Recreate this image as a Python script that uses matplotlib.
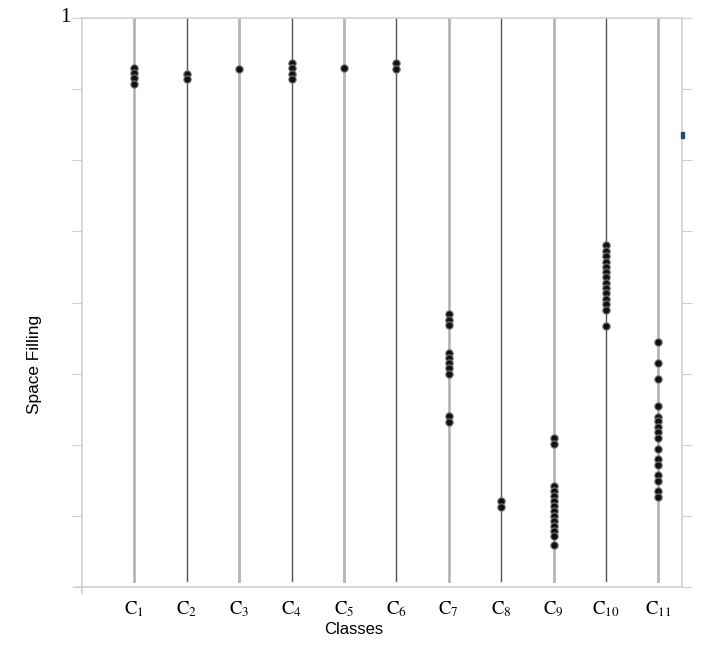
import matplotlib.pyplot as plt
from matplotlib.patches import Rectangle

plt.rcParams['mathtext.fontset'] = 'stix'

# classes and space filling values
classes = ['C1', 'C2', 'C3', 'C4', 'C5', 'C6', 'C7', 'C8', 'C9', 'C10', 'C11']
values = {
    'C1': [0.912, 0.903, 0.894, 0.884],
    'C2': [0.902, 0.893],
    'C3': [0.911],
    'C4': [0.921, 0.912, 0.902, 0.893],
    'C5': [0.912],
    'C6': [0.921, 0.910],
    'C7': [0.479, 0.470, 0.461, 0.412, 0.403, 0.394, 0.385, 0.375, 0.300, 0.290],
    'C8': [0.151, 0.140],
    'C9': [0.261, 0.251, 0.177, 0.169, 0.160, 0.151, 0.142, 0.134, 0.125,
           0.116, 0.107, 0.098, 0.090, 0.073],
    'C10': [0.601, 0.591, 0.582, 0.572, 0.563, 0.554, 0.544, 0.535, 0.525,
            0.516, 0.506, 0.497, 0.487, 0.459],
    'C11': [0.431, 0.393, 0.365, 0.318, 0.299, 0.291, 0.282, 0.272, 0.262,
            0.242, 0.225, 0.215, 0.196, 0.187, 0.168, 0.159],
}
yticks = [0, 0.125, 0.25, 0.375, 0.5, 0.625, 0.75, 0.875, 1]

fig = plt.figure(figsize=(7.05, 6.45), dpi=100)
ax = fig.add_axes([82 / 705, 1 - 587 / 645, 600 / 705, 569 / 645])

for i, c in enumerate(classes):
    x = i + 1
    if i % 2 == 0:
        ax.plot([x, x], [0.01, 1], color='#b5b5b5', lw=2, zorder=1)
    else:
        ax.plot([x, x], [0.01, 1], color='#555555', lw=1, zorder=1)
    ys = values[c]
    ax.scatter([x] * len(ys), ys, s=28, facecolor='#111111', edgecolor='#777777',
               linewidth=0.8, zorder=3)

ax.set_xlim(0, 11.45)
ax.set_ylim(0, 1)

ax.set_xticks(range(1, 12))
ax.set_xticklabels([r'$\mathrm{C}_{%s}$' % c[1:] for c in classes], fontsize=13.5)
ax.tick_params(axis='x', length=0, pad=9)

ax.set_yticks(yticks)
ax.set_yticklabels([''] * 8 + ['1'], family='Liberation Serif', fontsize=15)
ax.tick_params(axis='y', direction='out', length=7, color='#d0d0d0', pad=1,
               right=True, labelright=False)
for lab in ax.get_yticklabels():
    lab.set_verticalalignment('center')

for s in ax.spines.values():
    s.set_color('#d0d0d0')
    s.set_linewidth(1.2)
ax.spines['left'].set_bounds(-0.011, 1)
ax.spines['bottom'].set_bounds(-0.012 * 11.45, 11.45)

ax.set_xlabel('Classes', family='Liberation Sans', fontsize=12)
ax.xaxis.set_label_coords(0.452, -0.0615)
ax.set_ylabel('Space Filling', family='Liberation Sans', fontsize=12.4)
ax.yaxis.set_label_coords(-0.066, 0.392)

# small legend swatch cropped at the right edge
fig.patches.append(Rectangle((681 / 705, 1 - 138 / 645), 3 / 705, 6 / 645,
                             transform=fig.transFigure, color='#1f4e79'))

fig.savefig('out.png', dpi=100)
